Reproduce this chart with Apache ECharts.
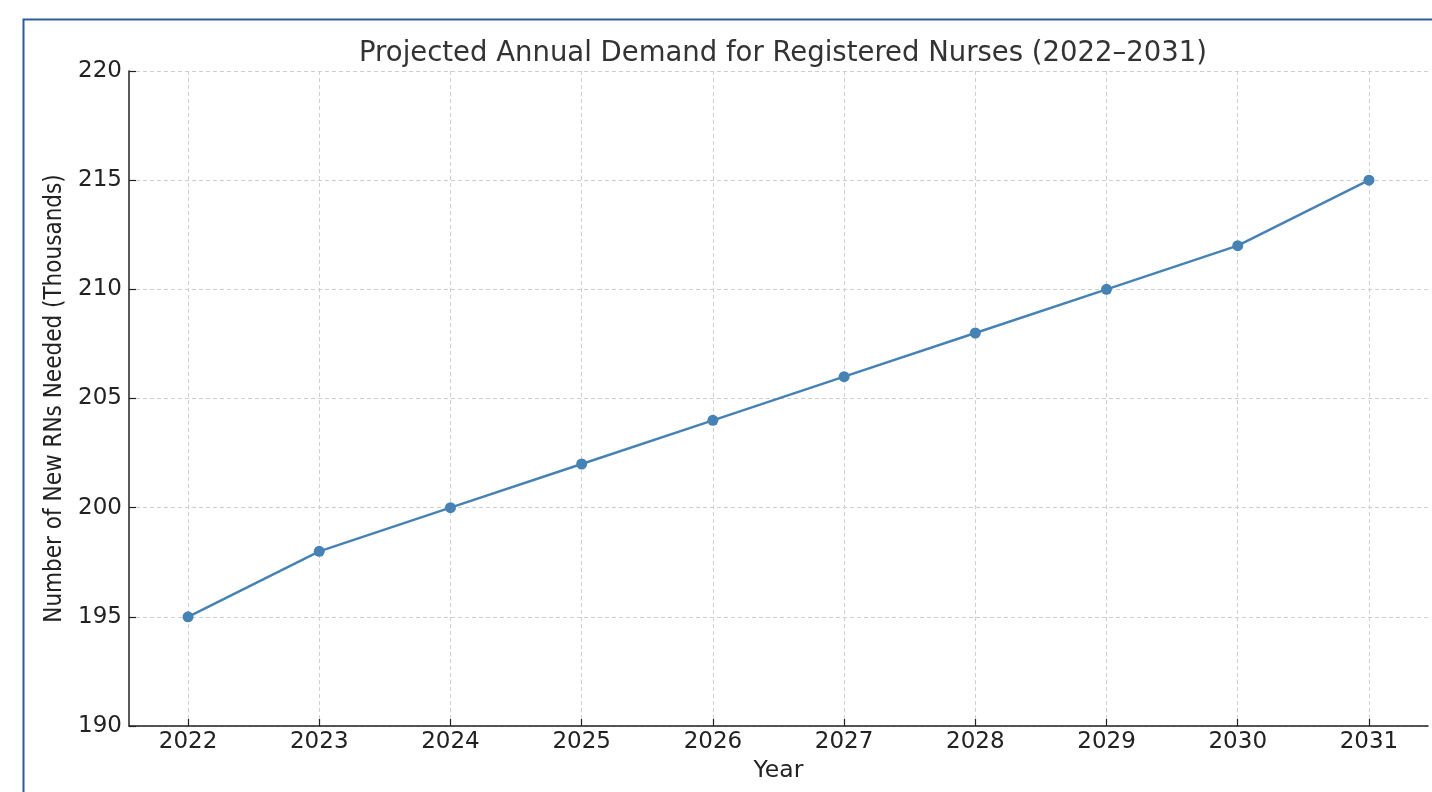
<!DOCTYPE html>
<html>
<head>
<meta charset="utf-8">
<script src="https://cdn.jsdelivr.net/npm/echarts@6/dist/echarts.min.js"></script>
<style>
html,body{margin:0;padding:0;background:#fff;}
#chart{width:1432px;height:792px;}
</style>
</head>
<body>
<div id="chart"></div>
<script>
const years = [2022, 2023, 2024, 2025, 2026, 2027, 2028, 2029, 2030, 2031];
const demand = [195, 198, 200, 202, 204, 206, 208, 210, 212, 215];
const yTicks = [190, 195, 200, 205, 210, 215, 220];
const titleText = 'Projected Annual Demand for Registered Nurses (2022–2031)';
const xName = 'Year';
const yName = 'Number of New RNs Needed (Thousands)';

const chart = echarts.init(document.getElementById('chart'), null, {renderer: 'canvas'});
const pad = (years[years.length - 1] - years[0]) * 0.05;
chart.setOption({
  animation: false,
  backgroundColor: '#fff',
  title: {
    text: titleText,
    left: 778, textAlign: 'center',
    top: 35,
    textStyle: {fontFamily: 'DejaVu Sans', fontSize: 27.5, fontWeight: 'normal', color: '#333'}
  },
  graphic: [{
    type: 'rect', silent: true,
    shape: {x: 23.5, y: 19.5, width: 1500, height: 900},
    style: {fill: null, stroke: '#2f5d9b', lineWidth: 2}
  }],
  grid: {left: 129, right: 4, top: 71, bottom: 66, containLabel: false},
  xAxis: {
    type: 'value',
    min: years[0] - pad, max: years[years.length - 1] + pad,
    name: xName, nameLocation: 'middle', nameGap: 32,
    nameTextStyle: {fontFamily: 'DejaVu Sans', fontSize: 23.5, color: '#222'},
    axisLine: {show: true, onZero: false, lineStyle: {color: '#222', width: 1.5}},
    axisTick: {show: true, inside: true, length: 7, customValues: years, lineStyle: {color: '#222', width: 1.2}},
    axisLabel: {customValues: years, margin: 5, fontFamily: 'DejaVu Sans', fontSize: 23, color: '#222',
      formatter: v => String(Math.round(v))},
    splitLine: {show: true, lineStyle: {color: '#cfcfcf', type: [4, 3], width: 1}}
  },
  yAxis: {
    type: 'value', min: yTicks[0], max: yTicks[yTicks.length - 1], interval: 5,
    name: yName, nameLocation: 'middle', nameGap: 60, nameRotate: 90,
    nameTextStyle: {fontFamily: 'DejaVu Sans Condensed', fontSize: 24, color: '#222'},
    axisLine: {show: true, lineStyle: {color: '#222', width: 1.5}},
    axisTick: {show: true, inside: true, length: 7, lineStyle: {color: '#222', width: 1.2}},
    axisLabel: {margin: 7, padding: [5, 0, 0, 0], fontFamily: 'DejaVu Sans', fontSize: 23, color: '#222'},
    splitLine: {show: true, lineStyle: {color: '#cfcfcf', type: [4, 3], width: 1}}
  },
  series: [{
    type: 'line',
    data: years.map((y, i) => [y, demand[i]]),
    symbol: 'circle', symbolSize: 11,
    lineStyle: {color: '#4682b4', width: 2.5},
    itemStyle: {color: '#4682b4'}
  }]
});
</script>
</body>
</html>
